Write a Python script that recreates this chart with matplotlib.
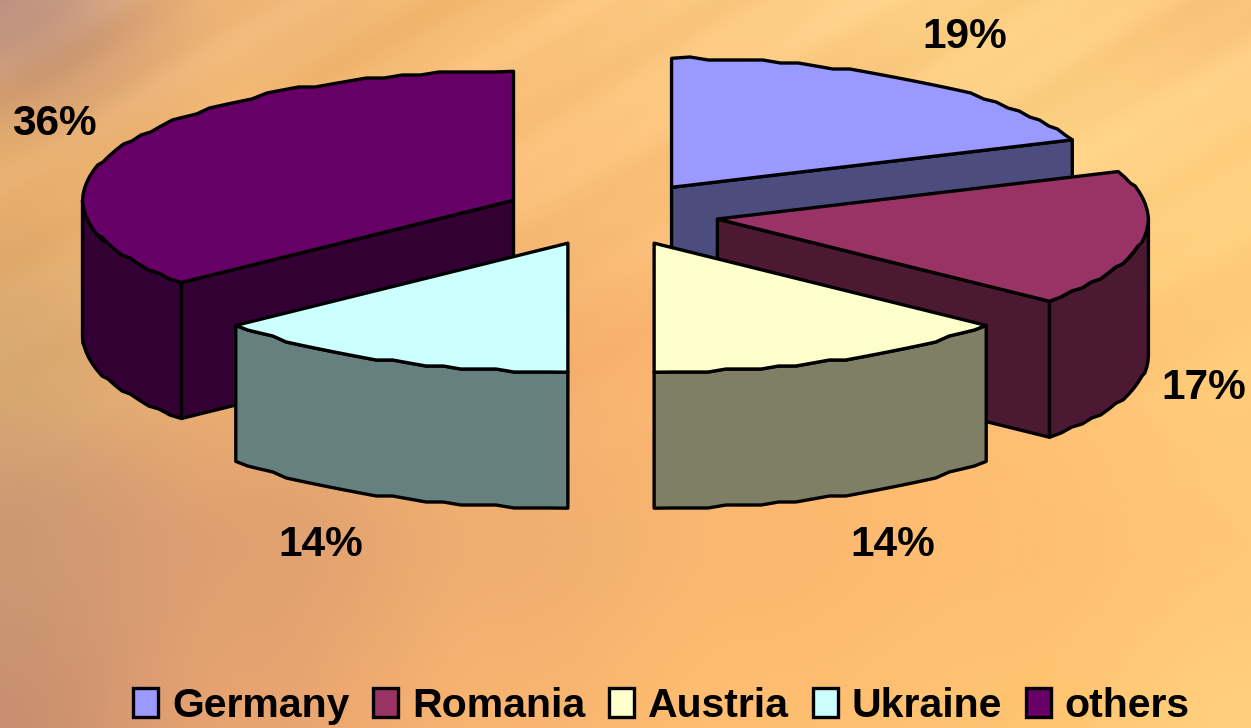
import numpy as np
import matplotlib
matplotlib.use('Agg')
import matplotlib.pyplot as plt
from matplotlib import font_manager
from matplotlib.colors import to_rgb
from matplotlib.patches import Patch, Polygon

names = ['Germany', 'Romania', 'Austria', 'Ukraine', 'others']
shares = [19, 17, 14, 14, 36]
top_colors = ['#9999FF', '#993366', '#FFFFCC', '#CCFFFF', '#660066']
side_colors = ['#4C4C7F', '#4C1933', '#7F7F66', '#667F7F', '#330033']

# rough colours of the sunset picture behind the chart, rows top to bottom
bg_colors = [
    ['#BC8C78', '#F0B878', '#F8C078', '#FAC880', '#FFD488', '#FCC880'],
    ['#E8B070', '#F8BE78', '#F8BE78', '#FDC47C', '#FDD084', '#FFD080'],
    ['#D8A870', '#EDB074', '#F4B070', '#FDB870', '#FFC078', '#FFCC78'],
    ['#CC9874', '#E0A070', '#F0AE70', '#FAB870', '#FFBE70', '#FFC874'],
    ['#C89070', '#E8A470', '#F8B470', '#FFBE70', '#FFC470', '#FFD07C'],
]

# pie geometry in pixels
cx, cy = 611, 214
rx, ry = 431, 129
depth = 136
explode_x = [0.25, 0.25, 0.235, 0.235, 0.25]
explode_y = 0.25

# where the percent labels sit, in pixels
label_pos = [(965, 37), (1204, 388), (893, 545), (321, 545), (54, 124)]

font = 'Liberation Sans'


def rim(apex, a):
    return np.column_stack([apex[0] + rx * np.sin(a), apex[1] - ry * np.cos(a)])


# the original arcs are stepped, snap them to a coarse pixel grid
def stepped(pts):
    out = pts.copy()
    out[1:-1, 1] = np.round(pts[1:-1, 1] / 3) * 3
    return out


fig = plt.figure(figsize=(12.51, 7.28), dpi=100)
ax = fig.add_axes([0, 0, 1, 1])
ax.set_xlim(0, 1251)
ax.set_ylim(728, 0)
ax.axis('off')

# background: blow up the colour grid, then add faint diagonal streaks
rows = len(bg_colors)
cols = len(bg_colors[0])
grid = np.array([[to_rgb(c) for c in r] for r in bg_colors])
yy, xx = np.mgrid[0:728, 0:1251]
u = xx / 1250 * (cols - 1)
v = yy / 727 * (rows - 1)
i = np.minimum(u.astype(int), cols - 2)
j = np.minimum(v.astype(int), rows - 2)
fu = (u - i)[..., None]
fv = (v - j)[..., None]
fu = fu * fu * (3 - 2 * fu)
fv = fv * fv * (3 - 2 * fv)
bg = (grid[j, i] * (1 - fu) * (1 - fv) + grid[j, i + 1] * fu * (1 - fv)
      + grid[j + 1, i] * (1 - fu) * fv + grid[j + 1, i + 1] * fu * fv)
diag = yy + 0.55 * xx
streak = 0.018 * np.sin(diag / 23) + 0.014 * np.sin(diag / 61 + 1) + 0.008 * np.sin(diag / 9 + xx / 180)
streak = streak * np.clip(1 - yy / 500, 0, 1)
bg = np.clip(bg + streak[..., None] * np.array([0.6, 1, 1.3]), 0, 1)
ax.imshow(bg, extent=(0, 1251, 728, 0), aspect='auto', zorder=0)

# work out the wedges from the shares, clockwise from 12 o'clock
edges = np.radians(np.cumsum([0] + shares) * 3.6)
wedges = []
for k in range(len(shares)):
    a0, a1 = edges[k], edges[k + 1]
    mid = (a0 + a1) / 2
    apex = (cx + explode_x[k] * rx * np.sin(mid), cy - explode_y * ry * np.cos(mid))
    wedges.append((apex[1], k, a0, a1, mid, apex))

# back wedges first
z = 2
for apex_y, k, a0, a1, mid, apex in sorted(wedges, key=lambda w: w[0]):
    n_pts = int(np.degrees(a1 - a0) / 2.5) + 2
    arc = stepped(rim(apex, np.linspace(a0, a1, n_pts)))
    mid_pt = rim(apex, np.array([mid]))[0]
    style = dict(facecolor=side_colors[k], edgecolor='black', linewidth=2.4, joinstyle='round')

    # flat cut faces, only when the top of the wedge lies above them
    for a in (a0, a1):
        p = rim(apex, np.array([a]))[0]
        if abs(p[0] - apex[0]) < 1:
            continue
        line_y = apex[1] + (p[1] - apex[1]) * (mid_pt[0] - apex[0]) / (p[0] - apex[0])
        if mid_pt[1] < line_y:
            face = [apex, p, (p[0], p[1] + depth), (apex[0], apex[1] + depth)]
            ax.add_patch(Polygon(face, closed=True, zorder=z, **style))

    # curved outer wall, the part that faces the viewer
    lo = max(a0, np.pi / 2)
    hi = min(a1, 3 * np.pi / 2)
    if hi > lo:
        n_pts = int(np.degrees(hi - lo) / 2.5) + 2
        front = stepped(rim(apex, np.linspace(lo, hi, n_pts)))
        wall = np.vstack([front, (front + [0, depth])[::-1]])
        ax.add_patch(Polygon(wall, closed=True, zorder=z, **style))

    top = np.vstack([[apex], arc])
    ax.add_patch(Polygon(top, closed=True, facecolor=top_colors[k], edgecolor='black',
                         linewidth=2.4, joinstyle='round', zorder=z + 1))
    z += 2

for k in range(len(shares)):
    ax.text(label_pos[k][0], label_pos[k][1], str(shares[k]) + '%', family=font, weight='bold',
            fontsize=30.5, ha='center', va='center', zorder=50)

handles = [Patch(facecolor=c, edgecolor='black', linewidth=2.4) for c in top_colors]
leg = ax.legend(handles, names, ncol=5, loc='lower left', bbox_to_anchor=(133 / 1251, 0.004),
                frameon=False, borderpad=0, borderaxespad=0, handlelength=0.61, handleheight=0.7,
                handletextpad=0.34, columnspacing=0.58,
                prop=font_manager.FontProperties(family=font, weight='bold', size=29.5))
leg.set_zorder(60)

fig.savefig('out.png', dpi=100)
